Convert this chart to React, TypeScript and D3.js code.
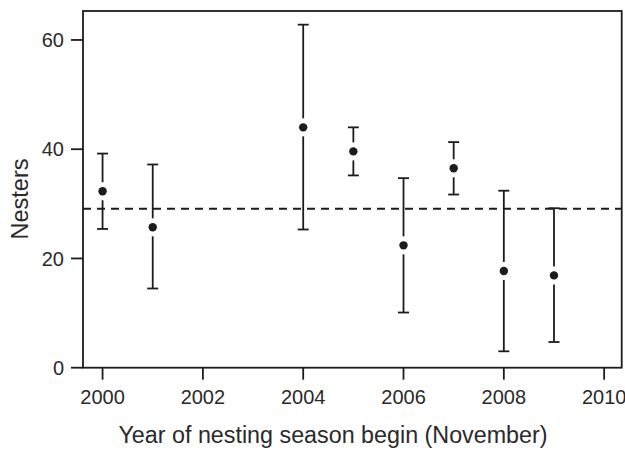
import React from 'react'
import * as d3 from 'd3'

// nesting season data
const years = [2000, 2001, 2004, 2005, 2006, 2007, 2008, 2009]
const nesters = [32.3, 25.7, 44.0, 39.6, 22.4, 36.5, 17.7, 16.9]
const upper = [39.2, 37.2, 62.8, 44.0, 34.7, 41.3, 32.4, 29.2]
const lower = [25.4, 14.5, 25.3, 35.2, 10.1, 31.7, 3.0, 4.7]
const meanLine = 29.1
const xTicks = [2000, 2002, 2004, 2006, 2008, 2010]
const yTicks = [0, 20, 40, 60]

const W = 625
const H = 451
const margin = { top: 11, right: 3.3, bottom: 83.3, left: 83 }
const ink = '#1c1c1c'
const font = '"Liberation Sans", Arial, Helvetica, sans-serif'

export default function App() {
  const innerW = W - margin.left - margin.right
  const innerH = H - margin.top - margin.bottom

  const x = d3.scaleLinear().domain([1999.61, 2010.35]).range([0, innerW])
  const y = d3.scaleLinear().domain([0, 65.3]).range([innerH, 0])

  const capHalf = 5.5
  const gap = 9
  const r = 4.2

  return (
    <svg
      width={W}
      height={H}
      style={{ position: 'absolute', left: 0, top: 0, background: '#fff' }}
    >
      <g transform={`translate(${margin.left},${margin.top})`}>
        {/* frame */}
        <rect x={0} y={0} width={innerW} height={innerH} fill="none" stroke={ink} strokeWidth={1.8} />

        {/* y axis */}
        {yTicks.map(t => (
          <g key={'y' + t} transform={`translate(0,${y(t)})`}>
            <line x1={-12} x2={0} stroke={ink} strokeWidth={1.8} />
            <text x={-19} dy="0.36em" textAnchor="end" fontFamily={font} fontSize={20} fill="#2a2a2a">
              {t}
            </text>
          </g>
        ))}

        {/* x axis */}
        {xTicks.map(t => (
          <g key={'x' + t} transform={`translate(${x(t)},${innerH})`}>
            <line y1={0} y2={12} stroke={ink} strokeWidth={1.8} />
            <text y={36} textAnchor="middle" fontFamily={font} fontSize={20} fill="#2a2a2a">
              {t}
            </text>
          </g>
        ))}

        {/* reference line */}
        <line
          x1={0}
          x2={innerW}
          y1={y(meanLine)}
          y2={y(meanLine)}
          stroke={ink}
          strokeWidth={1.8}
          strokeDasharray="8,6"
        />

        {/* error bars with gap around the point */}
        {years.map((yr, i) => {
          const cx = x(yr)
          const cy = y(nesters[i])
          const yu = y(upper[i])
          const yl = y(lower[i])
          return (
            <g key={yr} stroke={ink} strokeWidth={1.8}>
              <line x1={cx} x2={cx} y1={yu} y2={cy - gap} />
              <line x1={cx} x2={cx} y1={cy + gap} y2={yl} />
              <line x1={cx - capHalf} x2={cx + capHalf} y1={yu} y2={yu} />
              <line x1={cx - capHalf} x2={cx + capHalf} y1={yl} y2={yl} />
              <circle cx={cx} cy={cy} r={r} fill={ink} stroke="none" />
            </g>
          )
        })}
      </g>

      {/* axis titles */}
      <text
        x={333}
        y={443}
        textAnchor="middle"
        fontFamily={font}
        fontSize={23.3}
        fill="#2a2a2a"
      >
        Year of nesting season begin (November)
      </text>
      <text
        transform={`translate(28,199) rotate(-90)`}
        textAnchor="middle"
        fontFamily={font}
        fontSize={23.5}
        fill="#2a2a2a"
      >
        Nesters
      </text>
    </svg>
  )
}
